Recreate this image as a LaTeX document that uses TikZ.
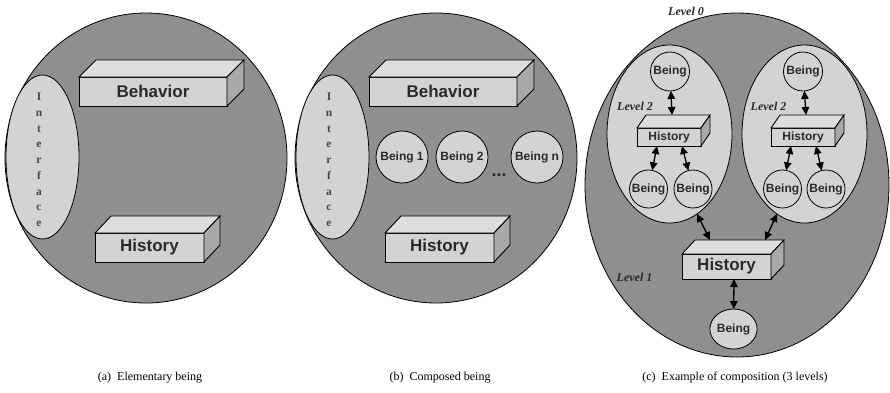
\documentclass[tikz,border=0pt]{standalone}
\usepackage{fontspec}
\setmainfont{Liberation Serif}
\setsansfont{Liberation Sans}
\usetikzlibrary{shapes.geometric,arrows.meta,calc}
\definecolor{darkg}{HTML}{8F8F8F}
\definecolor{lightg}{HTML}{D3D3D3}
\definecolor{topg}{HTML}{DDDDDD}
\definecolor{sideg}{HTML}{A8A8A8}
\definecolor{txt}{HTML}{2A2A2A}
\definecolor{intxt}{HTML}{454545}
\newcommand\cubfaces[3]{%
  \draw[line width=0.9, fill=topg] (#1.north west) -- ++(#2,-#3) -- ($(#1.north east)+(#2,-#3)$) -- (#1.north east) -- cycle;
  \draw[line width=0.9, fill=sideg] (#1.north east) -- ++(#2,-#3) -- ($(#1.south east)+(#2,-#3)$) -- (#1.south east) -- cycle;}
\tikzset{
  outerbody/.style={ellipse, draw, fill=darkg, line width=0.8, inner sep=0, outer sep=0},
  innerbody/.style={ellipse, draw, fill=lightg, line width=0.8, inner sep=0, outer sep=0},
  boxfront/.style={rectangle, draw, fill=lightg, line width=0.9, inner sep=0, outer sep=0, text=txt},
  bigtxt/.style={font=\sffamily\bfseries\fontsize{17}{17}\selectfont},
  smalltxt/.style={font=\sffamily\bfseries\fontsize{12}{12}\selectfont},
  being/.style={circle, draw, fill=lightg, line width=0.8, inner sep=0, outer sep=0, text=txt, smalltxt},
  letter/.style={anchor=base, inner sep=0, text=intxt, font=\bfseries\fontsize{11.5}{11.5}\selectfont},
  lvl/.style={inner sep=0, text=txt, font=\bfseries\itshape\fontsize{12}{12}\selectfont},
  capt/.style={inner sep=0, font=\fontsize{12}{12}\selectfont},
  dar/.style={line width=1.3, {Triangle[length=8pt,width=7.5pt]}-{Triangle[length=8pt,width=7.5pt]}}
}
\begin{document}
\begin{tikzpicture}[x=1pt,y=-1pt]
\useasboundingbox (0,0) rectangle (890,392);
% ---------- (a) ----------
\node[outerbody, minimum width=282, minimum height=290] (oa) at (146,158) {};
\node[innerbody, minimum width=73, minimum height=164] (ia) at (42.5,157) {};
\foreach \l [count=\i from 0] in {I,n,t,e,r,f,a,c,e}
  \node[letter] (la\i) at (39,100.7+15.75*\i) {\l};
\node[boxfront, bigtxt, minimum width=148, minimum height=29] (ba) at (153,91.5) {Behavior};
\cubfaces{ba}{17}{17}
\node[boxfront, bigtxt, minimum width=109, minimum height=29] (ha) at (149.5,247.5) {History};
\cubfaces{ha}{16}{17}
\node[capt] (ca) at (150,378) {(a)\enspace Elementary being};
% ---------- (b) ----------
\node[outerbody, minimum width=282, minimum height=290] (ob) at (436,158) {};
\node[innerbody, minimum width=73, minimum height=164] (ib) at (332.5,157) {};
\foreach \l [count=\i from 0] in {I,n,t,e,r,f,a,c,e}
  \node[letter] (lb\i) at (329,100.7+15.75*\i) {\l};
\node[boxfront, bigtxt, minimum width=148, minimum height=29] (bb) at (443,91.5) {Behavior};
\cubfaces{bb}{17}{17}
\node[boxfront, bigtxt, minimum width=109, minimum height=29] (hb) at (439.5,247.5) {History};
\cubfaces{hb}{16}{17}
\node[being, minimum size=52] (b1) at (402,157) {Being 1};
\node[being, minimum size=52] (b2) at (462,157) {Being 2};
\node[being, minimum size=52] (bn) at (537,157) {Being n};
\node[anchor=base, inner sep=0, text=txt, font=\sffamily\bfseries\fontsize{18}{18}\selectfont] (dots) at (499,176) {...};
\node[capt] (cb) at (440,378) {(b)\enspace Composed being};
% ---------- (c) ----------
\node[outerbody, minimum width=304, minimum height=344] (oc) at (737,185) {};
\node[innerbody, minimum width=125, minimum height=178] (inL) at (669.5,134) {};
\node[innerbody, minimum width=125, minimum height=178] (inR) at (804.5,134) {};
\node[lvl] (lv0) at (686,11) {Level 0};
\node[lvl] (lv2a) at (635,106) {Level 2};
\node[lvl] (lv2b) at (768.5,106) {Level 2};
\node[lvl] (lv1) at (634.5,277) {Level 1};
% left inner
\node[being, minimum size=39] (b0L) at (670,71.5) {Being};
\node[boxfront, smalltxt, minimum width=64, minimum height=18] (hL) at (669,137) {History};
\cubfaces{hL}{9}{13}
\node[being, minimum size=38] (bLL) at (648.5,189) {Being};
\node[being, minimum size=38] (bLR) at (693,189) {Being};
% right inner
\node[being, minimum size=39] (b0R) at (803,71.5) {Being};
\node[boxfront, smalltxt, minimum width=64, minimum height=18] (hR) at (803,137) {History};
\cubfaces{hR}{9}{13}
\node[being, minimum size=38] (bRL) at (782.5,189) {Being};
\node[being, minimum size=38] (bRR) at (826,189) {Being};
% big history
\node[boxfront, bigtxt, minimum width=89, minimum height=25] (H) at (726.5,266.5) {History};
\cubfaces{H}{13}{14}
\node[ellipse, draw, fill=lightg, line width=0.8, inner sep=0, outer sep=0, text=txt, smalltxt, minimum width=45, minimum height=40] (bB) at (733.5,329) {Being};
% arrow end points
\coordinate (hLt) at ($(hL.north)+(3,-13)$);
\coordinate (hRt) at ($(hR.north)+(3,-13)$);
\coordinate (hLbl) at ($(hL.south)+(-12,0)$);
\coordinate (hLbr) at ($(hL.south)+(13,0)$);
\coordinate (hRbl) at ($(hR.south)+(-12,0)$);
\coordinate (hRbr) at ($(hR.south)+(13,0)$);
\coordinate (Hbl) at ($(H.north west)+(28,-14)$);
\coordinate (Hbr) at ($(H.north east)+(-6,-14)$);
\coordinate (Hb) at ($(H.south)+(7.5,0)$);
% arrows
\draw[dar] (b0L) -- (hLt);
\draw[dar] (b0R) -- (hRt);
\draw[dar] (hLbl) -- (bLL);
\draw[dar] (hLbr) -- (bLR);
\draw[dar] (hRbl) -- (bRL);
\draw[dar] (hRbr) -- (bRR);
\draw[dar] (inL.-71) -- (Hbl);
\draw[dar] (inR.-109) -- (Hbr);
\draw[dar] (Hb) -- (bB);
\node[capt] (cc) at (735,378) {(c)\enspace Example of composition (3 levels)};
\end{tikzpicture}
\end{document}
